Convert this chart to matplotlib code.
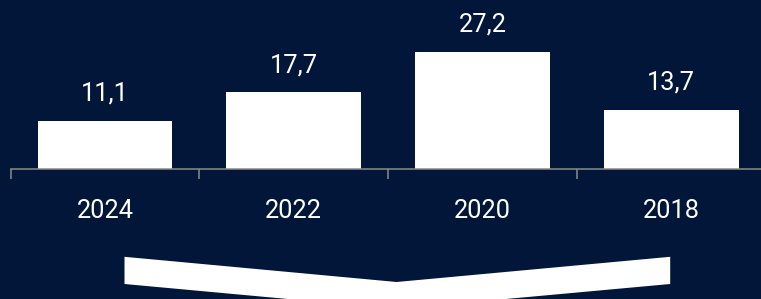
import matplotlib
matplotlib.use('Agg')
import matplotlib.pyplot as plt
from matplotlib.patches import Polygon

# chart data
years = ['2024', '2022', '2020', '2018']
values = [11.1, 17.7, 27.2, 13.7]

bg = '#011638'
W, H = 761, 299

plt.rcParams['font.family'] = ['Roboto', 'DejaVu Sans']

fig = plt.figure(figsize=(W/100, H/100), dpi=100, facecolor=bg)

# axes spans past the right edge like the source image
ax = fig.add_axes([10.7/W, 1 - 168.5/H, 754.7/W, 167.7/H])
ax.set_facecolor(bg)

x = range(len(years))
ax.bar(x, values, width=0.715, color='white', zorder=2)
ax.set_xlim(-0.5, len(years) - 0.5)
ax.set_ylim(0, 39)

for s in ['top', 'right', 'left']:
    ax.spines[s].set_visible(False)
ax.spines['bottom'].set_color('#8c8c8c')
ax.spines['bottom'].set_linewidth(1.1)

ax.set_yticks([])
ax.set_xticks([i - 0.5 for i in range(len(years) + 1)])
ax.set_xticklabels([])
ax.tick_params(axis='x', length=7.2, width=1.1, color='#8c8c8c')

for i, v in enumerate(values):
    ax.annotate(f'{v:.1f}'.replace('.', ','), (i, v), xytext=(0, 14.5),
                textcoords='offset points', ha='center', va='baseline',
                color='white', fontsize=18.3)
    ax.annotate(years[i], (i, 0), xycoords=('data', 'axes fraction'),
                xytext=(0, -35.3), textcoords='offset points',
                ha='center', va='baseline', color='white', fontsize=18.3,
                annotation_clip=False)

# down chevron below the axis
pts = [(124.5, 256.8), (396.6, 282), (670.2, 256.8),
       (670.2, 284), (396.6, 309), (124.5, 284)]
chev = Polygon([(px/W, 1 - py/H) for px, py in pts], closed=True,
               transform=fig.transFigure, facecolor='white', edgecolor='none')
fig.patches.append(chev)

fig.savefig('out.png', dpi=100, facecolor=bg)
